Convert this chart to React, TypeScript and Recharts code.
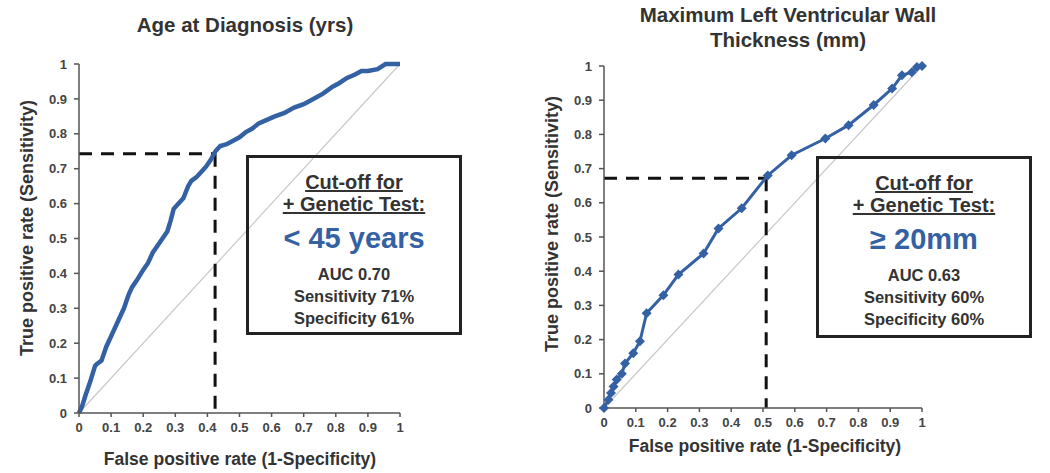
import React from "react";
import { ComposedChart, Line, XAxis, YAxis, ReferenceLine } from "recharts";

// Age at diagnosis ROC curve (FPR, TPR)
const ageFpr = [0, 0.01, 0.02, 0.035, 0.05, 0.055, 0.07, 0.085, 0.1, 0.115, 0.13, 0.14, 0.155, 0.165, 0.18, 0.2, 0.215, 0.23, 0.245, 0.26, 0.275, 0.285, 0.295, 0.31, 0.325, 0.34, 0.35, 0.365, 0.38, 0.395, 0.41, 0.425, 0.44, 0.46, 0.48, 0.5, 0.52, 0.54, 0.56, 0.585, 0.61, 0.64, 0.67, 0.7, 0.73, 0.76, 0.79, 0.81, 0.835, 0.86, 0.88, 0.9, 0.93, 0.955, 0.97, 1];
const ageTpr = [0, 0.02, 0.05, 0.09, 0.135, 0.14, 0.15, 0.19, 0.22, 0.25, 0.28, 0.3, 0.34, 0.36, 0.38, 0.41, 0.43, 0.46, 0.48, 0.5, 0.52, 0.55, 0.585, 0.6, 0.615, 0.65, 0.665, 0.675, 0.69, 0.705, 0.725, 0.75, 0.765, 0.77, 0.78, 0.79, 0.805, 0.815, 0.83, 0.84, 0.85, 0.86, 0.875, 0.885, 0.9, 0.915, 0.935, 0.945, 0.96, 0.97, 0.98, 0.98, 0.985, 1, 1, 1];

// Max LV wall thickness ROC curve
const wallFpr = [0, 0.014, 0.022, 0.03, 0.04, 0.056, 0.066, 0.092, 0.113, 0.134, 0.187, 0.234, 0.313, 0.36, 0.433, 0.515, 0.59, 0.696, 0.769, 0.848, 0.906, 0.937, 0.968, 0.984, 1];
const wallTpr = [0, 0.024, 0.044, 0.063, 0.083, 0.1, 0.13, 0.16, 0.195, 0.277, 0.33, 0.39, 0.452, 0.525, 0.584, 0.68, 0.739, 0.788, 0.827, 0.886, 0.934, 0.973, 0.982, 0.997, 1];

const ticks = [0, 0.1, 0.2, 0.3, 0.4, 0.5, 0.6, 0.7, 0.8, 0.9, 1];

const ageCut = { fpr: 0.424, tpr: 0.743 };
const wallCut = { fpr: 0.51, tpr: 0.672 };

const ageData = ageFpr.map((x, i) => ({ x, y: ageTpr[i] }));
const wallData = wallFpr.map((x, i) => ({ x, y: wallTpr[i] }));

const BLUE = "#3461a4";
const FONT = '"Liberation Sans", Arial, sans-serif';
const tickStyle = { fontSize: 13, fontWeight: 700, fill: "#444", fontFamily: FONT };

const fmt = (v: number) => String(v);

function Diamond(props: any) {
  const { cx, cy } = props;
  if (cx == null || cy == null) return null;
  const r = 5;
  return <polygon points={`${cx},${cy - r} ${cx + r},${cy} ${cx},${cy + r} ${cx - r},${cy}`} fill={BLUE} />;
}

// centred text at (x, y)
function Txt({ x, y, size, color = "#333", rotate = 0, underline = false, children }: any) {
  return (
    <div
      style={{
        position: "absolute", left: x, top: y, whiteSpace: "nowrap",
        transform: `translate(-50%, -50%) rotate(${rotate}deg)`,
        fontFamily: FONT, fontWeight: 700, fontSize: size, color, lineHeight: 1,
        textDecoration: underline ? "underline" : "none",
      }}
    >
      {children}
    </div>
  );
}

function CutBox({ left, top, height, value, auc, sens, spec }: any) {
  const cx = left + 108;
  return (
    <>
      <div style={{ position: "absolute", left, top, width: 210, height, border: "3px solid #222" }} />
      <Txt x={cx} y={top + 27} size={20} underline>Cut-off for</Txt>
      <Txt x={cx} y={top + 49} size={20} underline>+ Genetic Test:</Txt>
      <Txt x={cx} y={top + 83} size={29} color={BLUE}>{value}</Txt>
      <Txt x={cx} y={top + 119} size={16.5}>{auc}</Txt>
      <Txt x={cx} y={top + 141} size={16.5}>{sens}</Txt>
      <Txt x={cx} y={top + 163} size={16.5}>{spec}</Txt>
    </>
  );
}

function RocChart({ data, cut, margin, dots, strokeWidth }: any) {
  return (
    <ComposedChart width={525} height={473} data={data} margin={margin}>
      <XAxis
        dataKey="x" type="number" domain={[0, 1]} ticks={ticks} tickFormatter={fmt}
        tick={tickStyle} stroke="#555" strokeWidth={1.5} tickSize={4} tickMargin={6} height={30}
      />
      <YAxis
        dataKey="y" type="number" domain={[0, 1]} ticks={ticks} tickFormatter={fmt}
        tick={tickStyle} stroke="#555" strokeWidth={1.5} tickSize={5} tickMargin={7} width={50}
      />
      <ReferenceLine segment={[{ x: 0, y: 0 }, { x: 1, y: 1 }]} stroke="#c8c8c8" strokeWidth={1.2} />
      <ReferenceLine segment={[{ x: 0, y: cut.tpr }, { x: cut.fpr, y: cut.tpr }]} stroke="#111" strokeWidth={3} strokeDasharray="13 9" />
      <ReferenceLine segment={[{ x: cut.fpr, y: cut.tpr }, { x: cut.fpr, y: 0 }]} stroke="#111" strokeWidth={3} strokeDasharray="13 9" />
      <Line
        dataKey="y" type="linear" stroke={BLUE} strokeWidth={strokeWidth}
        dot={dots ? <Diamond /> : false} activeDot={false} isAnimationActive={false}
      />
    </ComposedChart>
  );
}

export default function App() {
  return (
    <div style={{ position: "fixed", left: 0, top: 0, width: 1050, height: 473, background: "#fff", overflow: "hidden" }}>
      <div style={{ position: "absolute", left: 0, top: 0 }}>
        <RocChart data={ageData} cut={ageCut} margin={{ top: 64, right: 125, bottom: 30, left: 29 }} dots={false} strokeWidth={4.5} />
      </div>
      <div style={{ position: "absolute", left: 525, top: 0 }}>
        <RocChart data={wallData} cut={wallCut} margin={{ top: 66, right: 128, bottom: 35, left: 29 }} dots={true} strokeWidth={3} />
      </div>

      <Txt x={245} y={25} size={20.5}>Age at Diagnosis (yrs)</Txt>
      <Txt x={788} y={15} size={20.5}>Maximum Left Ventricular Wall</Txt>
      <Txt x={788} y={40} size={20.5}>Thickness (mm)</Txt>

      <Txt x={240} y={460} size={17.5}>False positive rate (1-Specificity)</Txt>
      <Txt x={765} y={447} size={17.5}>False positive rate (1-Specificity)</Txt>

      <Txt x={27} y={228} size={18} rotate={-90}>True positive rate (Sensitivity)</Txt>
      <Txt x={552} y={224} size={18} rotate={-90}>True positive rate (Sensitivity)</Txt>

      <CutBox left={246} top={155} height={174} value="< 45 years" auc="AUC 0.70" sens="Sensitivity 71%" spec="Specificity 61%" />
      <CutBox left={816} top={156} height={176} value="≥ 20mm" auc="AUC 0.63" sens="Sensitivity 60%" spec="Specificity 60%" />
    </div>
  );
}
